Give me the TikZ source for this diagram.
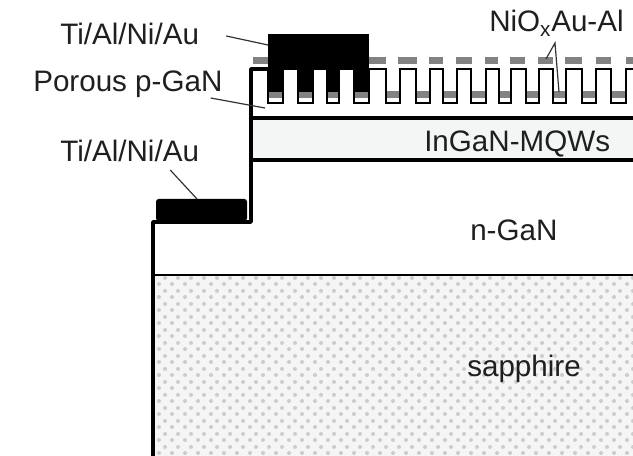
\documentclass[tikz,border=0pt]{standalone}
\usepackage{fontspec}
\setmainfont{Liberation Sans}
\usetikzlibrary{patterns}
\definecolor{capgray}{RGB}{130,130,130}
\definecolor{wellfill}{RGB}{244,246,246}
\pgfdeclarepatternformonly{sapphiredots}{\pgfqpoint{0pt}{0pt}}{\pgfqpoint{9.75pt}{9.75pt}}{\pgfqpoint{9.75pt}{9.75pt}}{
	\pgfpathcircle{\pgfqpoint{2.4pt}{2.4pt}}{1.6pt}
	\pgfpathcircle{\pgfqpoint{7.27pt}{7.27pt}}{1.6pt}
	\pgfusepath{fill}
}
\tikzset{
	layer/.style={line width=2.7pt,black},
	trench/.style={line width=2pt,black},
	lead/.style={line width=.9pt,black!80},
	lbl/.style={inner sep=0pt,font=\fontsize{22.2pt}{24pt}\selectfont,text=black!88},
}
\begin{document}
\begin{tikzpicture}[x=.75pt,y=-.75pt]
		\useasboundingbox (0,0) rectangle (633,456);
		% sapphire and well
		\fill[black!4] (153,275) rectangle (633,456);
		\pattern[pattern=sapphiredots,pattern color=black!20] (153,275) rectangle (633,456);
		\fill[wellfill] (252,118) rectangle (633,160);
		% caps on the ridges
		\foreach \xa/\xb in {253/268,283/298,314/326,340/354,369/386,398/417,429/443,456/472,485/498,510/525,538/553,565/582,596/611,626/633}{
			\fill[capgray] (\xa,57.5) rectangle (\xb,64);
		}
		% trenches, each with its cap at the bottom
		\foreach \xa/\xb in {268/283,298/313,327/339,354/369,386/400,416/430,443/457,471/486,499/511,526/539,553/566,582/596,611/626}{
			\fill[capgray] (\xa,91.5) rectangle (\xb,98);
			\draw[trench] (\xa,69) -- (\xa,103) -- (\xb,103) -- (\xb,69);
		}
		\foreach \xa/\xb in {283/298,313/327,339/354,369/386,400/416,430/443,457/471,486/499,511/526,539/553,566/582,596/611,626/633}{
			\draw[trench,line cap=rect] (\xa,69) -- (\xb,69);
		}
		% outline of the mesa
		\draw[layer,line join=round] (153,456) -- (153,222) -- (251,222) -- (251,69) -- (268,69);
		\draw[layer] (251,118) -- (633,118);
		\draw[layer] (251,160) -- (633,160);
		\draw[line width=1.4pt] (153,275) -- (633,275);
		% contacts
		\fill[black,rounded corners=2pt] (156,221) -- (156,199) -- (247,199) -- (247,221) -- cycle;
		\fill[black] (268,34) rectangle (369,69);
		\foreach \xa/\xb in {268/283,298/313,327/339,354/369}{
			\fill[black] (\xa,69) rectangle (\xb,92);
		}
		% labels
		\node[lbl,anchor=base west] (topmetal) at (60,45) {Ti/Al/Ni/Au};
		\node[lbl,anchor=base west] (porous) at (33,92) {Porous p-GaN};
		\node[lbl,anchor=base west] (botmetal) at (60,162) {Ti/Al/Ni/Au};
		\node[lbl,anchor=base west] (nio) at (489,32) {NiO\textsubscript{x}Au-Al};
		\node[lbl,anchor=base west] (well) at (424,152) {InGaN-MQWs};
		\node[lbl,anchor=base west] (ngan) at (470,241) {n-GaN};
		\node[lbl,anchor=base west] (sapphire) at (467,377) {sapphire};
		% leaders
		\coordinate (topstart) at ([shift={(27,-9)}]topmetal.base east);
		\coordinate (porostart) at ([shift={(-12,6)}]porous.base east);
		\coordinate (botstart) at ([shift={(-29,8)}]botmetal.base east);
		\coordinate (topend) at (268,45);
		\coordinate (poroend) at (265,108);
		\coordinate (botend) at (197,199);
		\coordinate (niofork) at (555,43);
		\coordinate (nioa) at (546,59);
		\coordinate (niob) at (559,92);
		\draw[lead] (topstart) -- (topend);
		\draw[lead] (porostart) -- (poroend);
		\draw[lead] (botstart) -- (botend);
		\draw[lead] (nioa) -- (niofork) -- (niob);
	    \end{tikzpicture}
\end{document}
